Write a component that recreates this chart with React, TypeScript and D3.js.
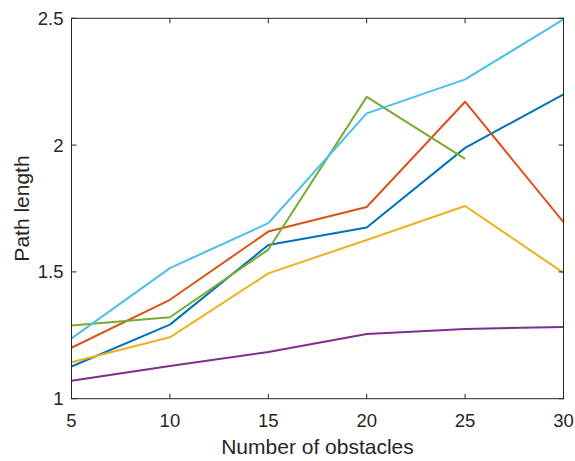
import React from "react";
import * as d3 from "d3";

const obstacles = [5, 10, 15, 20, 25, 30];
const seriesBlue = [1.127, 1.292, 1.606, 1.675, 1.989, 2.2];
const seriesOrange = [1.201, 1.39, 1.659, 1.756, 2.171, 1.696];
const seriesYellow = [1.144, 1.242, 1.494, 1.626, 1.76, 1.496];
const seriesPurple = [1.071, 1.129, 1.184, 1.255, 1.275, 1.283];
const seriesGreen = [1.289, 1.321, 1.588, 2.19, 1.946];
const seriesLightBlue = [1.238, 1.515, 1.692, 2.125, 2.259, 2.496];
const xTicks = [5, 10, 15, 20, 25, 30];
const yTicks = [1, 1.5, 2, 2.5];

const series = [
  { values: seriesBlue, color: "#0072BD" },
  { values: seriesOrange, color: "#D95319" },
  { values: seriesYellow, color: "#EDB120" },
  { values: seriesPurple, color: "#7E2F8E" },
  { values: seriesGreen, color: "#77AC30" },
  { values: seriesLightBlue, color: "#4DBEEE" },
];

export default function App() {
  const W = 575, H = 461;
  const left = 71.5, right = 563.5, top = 18.3, bottom = 398.7;
  const x = d3.scaleLinear().domain([5, 30]).range([left, right]);
  const y = d3.scaleLinear().domain([1, 2.5]).range([bottom, top]);
  const line = d3.line<number>().x((_, i) => x(obstacles[i])).y((d) => y(d));
  const axisColor = "#262626";
  const font = "'Liberation Sans', Arial, sans-serif";
  return (
    <svg width={W} height={H} style={{ position: "absolute", left: 0, top: 0, background: "#fff" }}>
      <rect x={0} y={0} width={W} height={H} fill="#fff" />
      <defs>
        <clipPath id="plot">
          <rect x={left} y={top} width={right - left} height={bottom - top} />
        </clipPath>
      </defs>
      <g clipPath="url(#plot)">
        {series.map((s, i) => (
          <path key={i} d={line(s.values) || ""} fill="none" stroke={s.color} strokeWidth={2} strokeLinejoin="round" />
        ))}
      </g>
      <rect x={left} y={top} width={right - left} height={bottom - top} fill="none" stroke={axisColor} strokeWidth={1} />
      {xTicks.map((t) => (
        <g key={"x" + t}>
          <line x1={x(t)} x2={x(t)} y1={bottom} y2={bottom - 5} stroke={axisColor} />
          <line x1={x(t)} x2={x(t)} y1={top} y2={top + 5} stroke={axisColor} />
          <text x={x(t)} y={420} textAnchor="middle" dominantBaseline="central" fontFamily={font} fontSize={18.5} fill={axisColor}>
            {t}
          </text>
        </g>
      ))}
      {yTicks.map((t) => (
        <g key={"y" + t}>
          <line x1={left} x2={left + 5} y1={y(t)} y2={y(t)} stroke={axisColor} />
          <line x1={right} x2={right - 5} y1={y(t)} y2={y(t)} stroke={axisColor} />
          <text x={63.5} y={y(t)} textAnchor="end" dominantBaseline="central" fontFamily={font} fontSize={18.5} fill={axisColor}>
            {t}
          </text>
        </g>
      ))}
      <text x={(left + right) / 2} y={446} textAnchor="middle" dominantBaseline="central" fontFamily={font} fontSize={21} fill={axisColor}>
        Number of obstacles
      </text>
      <text transform={`translate(21,${(top + bottom) / 2}) rotate(-90)`} textAnchor="middle" dominantBaseline="central" fontFamily={font} fontSize={21} fill={axisColor}>
        Path length
      </text>
    </svg>
  );
}
